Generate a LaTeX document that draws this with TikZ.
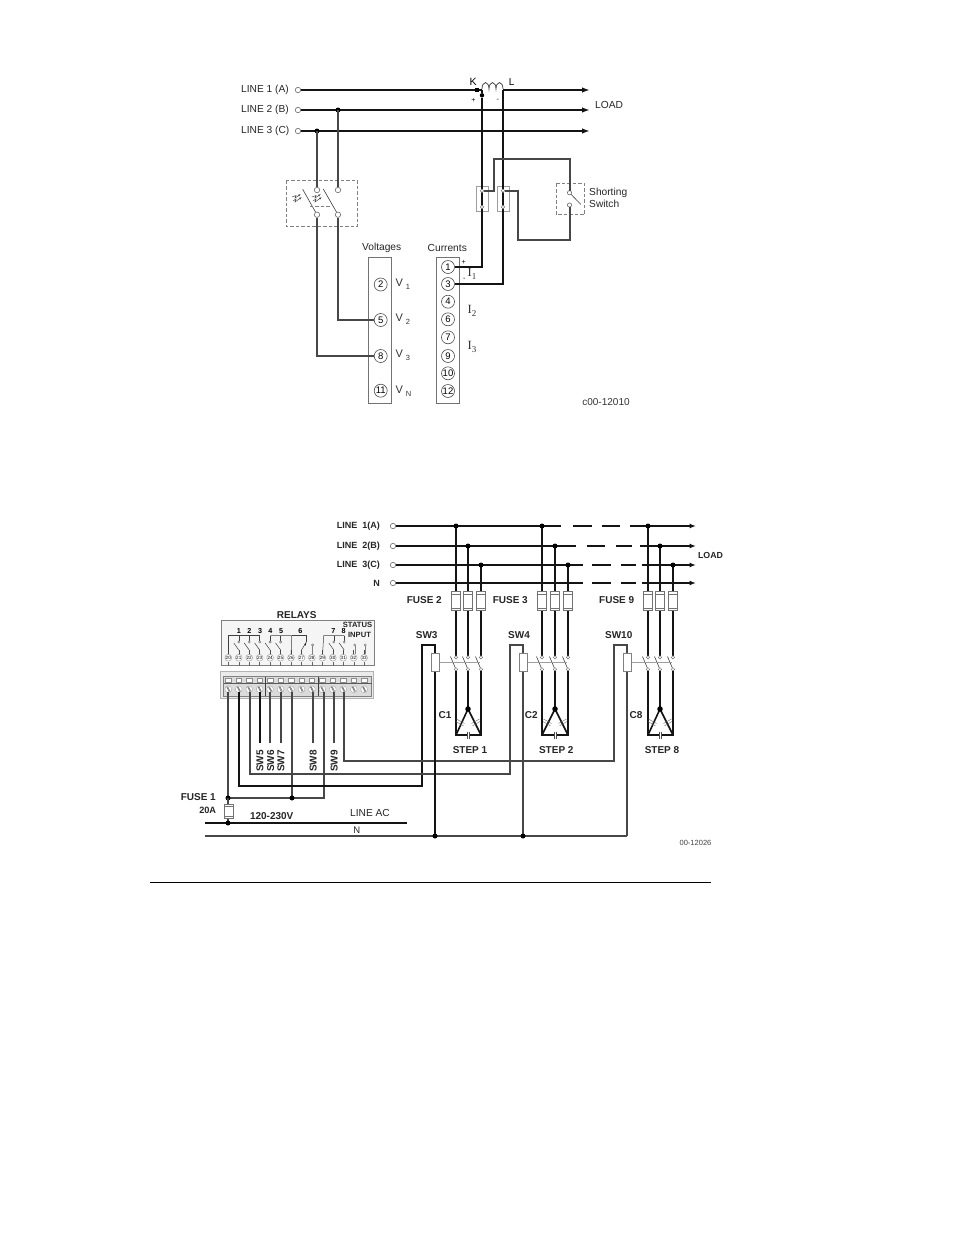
\documentclass[tikz,border=0pt]{standalone}
\usepackage{fontspec}
\setmainfont{Liberation Sans}
\newfontfamily\serifx{Liberation Serif}
\usetikzlibrary{arrows.meta}
\definecolor{wire}{gray}{0.08}
\definecolor{wiremid}{gray}{0.28}
\definecolor{gline}{gray}{0.62}
\tikzset{
 x=1pt,y=-1pt,
 wth/.style={line width=2pt,draw=wire},
 wmed/.style={line width=1.7pt,draw=wiremid},
 thin1/.style={line width=0.6pt,draw=black!75},
 grayl/.style={line width=0.9pt,draw=gline},
 dbox/.style={line width=0.7pt,draw=black!50,dash pattern=on 3.5pt off 2pt},
 term/.style={circle,draw=black!60,line width=0.6pt,fill=white,inner sep=0pt,minimum size=5.4pt},
 tiny1/.style={circle,draw=black!55,line width=0.45pt,fill=white,inner sep=0pt,minimum size=2.8pt},
 dot/.style={circle,fill=black,inner sep=0pt,minimum size=5pt},
 num/.style={circle,draw=black!70,line width=0.6pt,fill=white,inner sep=0pt,minimum size=13pt,font=\fontsize{9.5}{9.5}\selectfont},
 lab/.style={inner sep=0pt,yshift=-0.8pt,font=\fontsize{10.2}{11}\selectfont,text=black!85},
 blab/.style={inner sep=0pt,yshift=-0.5pt,font=\fontsize{10}{10}\bfseries\selectfont,text=black!85},
 fuse/.style={draw=black!55,line width=0.6pt,fill=white,minimum width=8.6pt,minimum height=19pt,inner sep=0pt},
 swbox/.style={draw=black!50,line width=0.7pt,fill=white,minimum width=8pt,minimum height=18pt,inner sep=0pt},
 arr/.style={-{Latex[length=8pt,width=5.5pt]}},
 arr2/.style={-{Latex[length=6.5pt,width=5pt]}},
}
\begin{document}
\begin{tikzpicture}
\useasboundingbox[fill=white] (0,0) rectangle (954,1235);

%%%%% TOP DIAGRAM
\node[lab,anchor=west] at (241,89) {LINE 1 (A)};
\node[lab,anchor=west] at (241,109) {LINE 2 (B)};
\node[lab,anchor=west] at (241,130) {LINE 3 (C)};
\node[term] (ta) at (298,90) {};
\node[term] (tb) at (298,110) {};
\node[term] (tc) at (298,131) {};
\coordinate (ka) at (482,90);
\coordinate (ctl) at (503,90);
\coordinate (ea) at (590,90);
\coordinate (eb) at (590,110);
\coordinate (ec) at (590,131);
\draw[wth] (ta) -- (ka);
\draw[wth,arr] (ctl) -- (ea);
\draw[wth,arr] (tb) -- (eb);
\draw[wth,arr] (tc) -- (ec);
\coordinate (j3) at (317,131);
\coordinate (j2) at (338,110);
\node[dot] at (j3) {}; \node[dot] at (j2) {};
% isolating switch
\draw[dbox] (286,180.5) rectangle (357.5,226);
\node[term] (s1u) at (317,190) {};
\node[term] (s2u) at (338,190) {};
\node[term] (s1d) at (317,214.7) {};
\node[term] (s2d) at (338,214.7) {};
\draw[wmed] (j3) -- (s1u);
\draw[wmed] (j2) -- (s2u);
\draw[thin1] (302.7,189.3) -- (s1d);
\draw[thin1] (323.3,189) -- (s2d);
\draw[dbox] (309.5,206.3) -- (330.5,206.3);
\foreach \x in {293,313}{
 \draw[line width=0.5pt,black!70,-{Latex[length=3pt,width=2pt]}] (\x,201) -- (\x+3,199) -- (\x+2,202) -- (\x+9,197);
 \draw[line width=0.5pt,black!70,-{Latex[length=3pt,width=2pt]}] (\x-1,197) -- (\x+3,195.5) -- (\x+2,198) -- (\x+8,194);
}
% voltages
\node[lab] at (381.7,247) {Voltages};
\draw[draw=black!55,line width=0.7pt] (368.5,257.5) rectangle (391.5,403.5);
\node[num] (v2) at (380.7,284.5) {2};
\node[num] (v5) at (380.7,320) {5};
\node[num] (v8) at (380.7,356) {8};
\node[num] (v11) at (380.7,390.7) {11};
\foreach \y/\s in {284/1,319/2,355.5/3,391/N}{
 \node[inner sep=0pt,anchor=west,font=\fontsize{11}{11}\selectfont,text=black!80] at (395.3,\y) {V\hspace{3pt}\raisebox{-3pt}{\fontsize{7.5}{7.5}\selectfont\s}};
}
\draw[wmed] (s2d) |- (v5);
\draw[wmed] (s1d) |- (v8);
% currents
\node[lab] at (447.3,247) {Currents};
\draw[draw=black!55,line width=0.7pt] (436.5,257.5) rectangle (459.5,403.5);
\foreach \n/\y in {1/267,3/284,4/301.7,6/319.3,7/337.3,9/356,10/373.3,12/391}{
 \node[num] (c\n) at (448,\y) {\n};
}
\foreach \y/\s in {273.5/1,310.7/2,346.7/3}{
 \node[inner sep=0pt,anchor=west,font=\serifx\fontsize{12.5}{12}\selectfont,text=black!80] at (467.5,\y) {I\raisebox{-3pt}{\fontsize{9}{9}\selectfont\s}};
}
\node[inner sep=0pt,font=\fontsize{7}{7}\selectfont] at (463.7,262) {+};
\node[inner sep=0pt,font=\fontsize{7}{7}\selectfont] at (464.3,279) {-};
% CT
\node[inner sep=0pt,font=\fontsize{10.5}{10}\selectfont] at (473,81.5) {K};
\node[inner sep=0pt,font=\fontsize{10}{10}\selectfont] at (511.7,82) {L};
\draw[line width=0.7pt,black!80] (482,89) arc[start angle=180,end angle=360,x radius=3.5,y radius=6.5] arc[start angle=180,end angle=360,x radius=3.5,y radius=6.5] arc[start angle=180,end angle=360,x radius=3.5,y radius=6.5];
\node[fill=black,inner sep=0pt,minimum size=4pt] at (477,90) {};
\node[dot,minimum size=4.4pt] (ctk) at (482,95.3) {};
\node[inner sep=0pt,font=\fontsize{7}{7}\selectfont] at (473.3,100.7) {+};
\node[inner sep=0pt,font=\fontsize{7}{7}\selectfont] at (497.7,100.7) {-};
\draw[grayl] (476.5,186.5) rectangle (488.5,211.5);
\draw[grayl] (497.5,186.5) rectangle (509.5,211.5);
\draw[wth] (ka) -- (ctk);
\draw[wth] (ctk) |- (c1);
\draw[wth] (ctl) |- (c3);
\node[tiny1,minimum size=3.6pt] (ca) at (482,190.7) {};
\node[tiny1,minimum size=3.6pt] at (482,207) {};
\node[tiny1,minimum size=3.6pt] (cb) at (503,190.7) {};
\node[tiny1,minimum size=3.6pt] at (503,207) {};
% shorting switch
\draw[dbox] (556,183.5) rectangle (584.5,214.5);
\node[term,minimum size=4.2pt] (ss1) at (569.5,192.7) {};
\node[term,minimum size=4.2pt] (ss2) at (569.5,205) {};
\draw[thin1] (ss1) -- (580.7,204.3);
\draw[wmed] (ca) -- (494,190.7) -- (494,159) -- (570,159) -- (570,190.8);
\draw[wmed] (cb) -- (518,190.7) -- (518,240) -- (570,240) -- (570,207);
\node[lab,anchor=west] at (589,192) {Shorting};
\node[lab,anchor=west] at (589,203) {Switch};
\node[lab,anchor=west] at (595,104) {LOAD};
\node[inner sep=0pt,font=\fontsize{10}{10}\selectfont,text=black!80] at (606,402) {c00-12010};

%%%%% BOTTOM DIAGRAM
\foreach \t/\y in {LINE\ \ 1(A)/526,LINE\ \ 2(B)/545.5,LINE\ \ 3(C)/565,N/583}{
 \node[blab,anchor=east,font=\fontsize{9}{9}\bfseries\selectfont] at (380,\y) {\t};
}
\node[term] (l1) at (393,526) {};
\node[term] (l2) at (393,546) {};
\node[term] (l3) at (393,565) {};
\node[term] (l4) at (393,583) {};
\coordinate (l1a) at (561,526); \coordinate (l2a) at (576,546);
\coordinate (l3a) at (583,565); \coordinate (l4a) at (583,583);
\draw[wth] (l1) -- (l1a);
\draw[wth] (l2) -- (l2a);
\draw[wth] (l3) -- (l3a);
\draw[wth] (l4) -- (l4a);
\foreach \y/\a/\b/\c/\d/\e in {526/573.3/592.3/601.7/620/630,546/586.7/605/616/632/640,565/592.3/611/621/636/641.7,583/592.3/611/621/636/641.7}{
 \draw[wth] (\a,\y) -- (\b,\y);
 \draw[wth] (\c,\y) -- (\d,\y);
 \draw[wth,arr2] (\e,\y) -- (696,\y);
}
% three capacitor banks
\foreach \xa/\xb/\xc in {456/468/481,542/555/568,648/660/673}{
 \draw[wth] (\xa,526) -- (\xa,592);
 \draw[wth] (\xb,546) -- (\xb,592);
 \draw[wth] (\xc,565) -- (\xc,592);
 \node[dot] at (\xa,526) {};
 \node[dot] at (\xb,546) {};
 \node[dot] at (\xc,565) {};
 \draw[wth] (\xa,610) -- (\xa,657);
 \draw[wth] (\xb,610) -- (\xb,657);
 \draw[wth] (\xc,610) -- (\xc,657);
 \foreach \x in {\xa,\xb,\xc}{
  \node[fuse] at (\x,601.2) {};
  \draw[black!55,line width=0.5pt] (\x-4.3,594) -- (\x+4.3,594) (\x-4.3,608.5) -- (\x+4.3,608.5);
  \draw[thin1] (\x-5.5,656.5) -- (\x,669.5);
 }
 \draw[grayl] (\xa-16,662.5) -- (\xc-1,662.5);
 \foreach \x in {\xa,\xb,\xc}{
  \node[tiny1,minimum size=3.4pt] at (\x,657.3) {};
  \node[tiny1,minimum size=3.4pt] at (\x,669.3) {};
 }
 \draw[wth,line join=miter] (\xa,671) -- (\xa,735) -- (\xc,735) -- (\xc,671);
 \draw[wth] (\xb,671) -- (\xb,709);
 \draw[wth,line width=1.6pt] (\xa,735) -- (\xb,709) -- (\xc,735);
 \node[dot,minimum size=5.5pt] at (\xb,709) {};
 % capacitor marks
 \fill[white] (\xb-1.2,731) rectangle (\xb+1.2,739);
 \draw[black!70,line width=0.5pt] (\xb-1.2,731.5) -- (\xb-1.2,739) (\xb+1.2,731.5) -- (\xb+1.2,739);
 \draw[black!55,line width=0.45pt] (\xb-11.5,719) -- (\xb-3.5,723.5) (\xb-12,721.5) -- (\xb-4.5,725.8);
 \draw[black!55,line width=0.45pt] (\xb+11.5,719) -- (\xb+3.5,723.5) (\xb+12,721.5) -- (\xb+4.5,725.8);
}
\node[blab] at (424.3,599.3) {FUSE 2};
\node[blab] at (510.3,599.3) {FUSE 3};
\node[blab] at (616.7,599.3) {FUSE 9};
\node[blab] at (426.7,634.7) {SW3};
\node[blab] at (519,634.7) {SW4};
\node[blab] at (618.7,634.7) {SW10};
\node[blab] at (445,714.3) {C1};
\node[blab] at (531.3,714.3) {C2};
\node[blab] at (636,714.3) {C8};
\node[blab] at (470,749.3) {STEP 1};
\node[blab] at (556.3,749.3) {STEP 2};
\node[blab] at (662,749.3) {STEP 8};
\node[blab,font=\fontsize{8.8}{9}\bfseries\selectfont] at (710.5,555) {LOAD};

% relays
\node[blab] at (296.7,615) {RELAYS};
\draw[draw=black!50,fill=black!4,line width=0.7pt] (221.5,620.5) rectangle (374,665);
\foreach \n [count=\i from 0] in {20,...,33}{
 \pgfmathsetmacro\xx{228.3+\i*10.45}
 \draw[black!60,line width=0.4pt] (\xx,662) -- (\xx,666);
 \draw[black!70,line width=0.5pt] (\xx,650) -- (\xx,655);
 \node[circle,draw=black!45,line width=0.35pt,fill=white,minimum size=6.8pt,inner sep=0pt,font=\fontsize{4.6}{4}\selectfont] (r\n) at (\xx,657.7) {\n};
}
\foreach \n/\x in {1/239,2/249.3,3/260,4/270.3,5/281,6/300.3,7/333.3,8/343.7}{
 \node[inner sep=0pt,font=\fontsize{7.2}{7}\bfseries\selectfont] at (\x,631) {\n};
}
\draw[thin1,line width=0.5pt] (r20) -- (228.3,635.5) -- (260,635.5);
\draw[thin1,line width=0.5pt] (270.3,635.5) -- (291.7,635.5) (291.7,635.5) -- (r26);
\draw[thin1,line width=0.5pt] (291.7,635.5) -- (306.3,635.5) -- (306.3,642);
\draw[thin1,line width=0.5pt] (r29) -- (323.7,635.5) -- (344.3,635.5);
\foreach \x in {238.8,249.2,259.7,270.1,280.6,333.8,344.2}{
 \draw[thin1,line width=0.5pt] (\x,635.5) -- (\x,641);
 \node[tiny1,minimum size=2.2pt] at (\x,642) {};
 \draw[thin1,line width=0.5pt] (\x-5,643) -- (\x,650);
}
\fill[black] (306.3,642.5) -- (304.3,644.5) -- (305.5,645.5) -- cycle;
\draw[thin1,line width=0.5pt] (306.3,642) -- (301.5,650);
\foreach \x in {312.6,365.3,354.8}{
 \draw[black!50,line width=0.4pt] (\x,646) -- (\x,654);
 \node[tiny1,minimum size=2.2pt] at (\x,645) {};
}
\node[blab,font=\fontsize{7.6}{7.6}\bfseries\selectfont] at (357.5,624.7) {STATUS};
\node[blab,font=\fontsize{7.6}{7.6}\bfseries\selectfont] at (359.5,634) {INPUT};

% terminal block
\draw[draw=black!30,fill=black!8,line width=0.7pt] (220.5,671.5) rectangle (373.5,698.5);
\fill[black!14] (223.5,676.5) rectangle (371.5,696);
\draw[black!50,line width=0.5pt] (223.5,676.5) rectangle (371.5,696);
\draw[black!65,line width=0.7pt] (223.5,683.5) -- (371.5,683.5);
\foreach \n [count=\i from 0] in {20,...,33}{
 \pgfmathsetmacro\xx{228.3+\i*10.45}
 \draw[black!45,fill=white,line width=0.4pt] (\xx-2.7,678.3) rectangle (\xx+2.7,682.3);
 \node[circle,draw=black!35,fill=white,line width=0.4pt,minimum size=6.8pt,inner sep=0pt] (s\n) at (\xx,689.3) {};
 \draw[black!65,line width=0.45pt] (\xx-1.6,686.8) -- (\xx+0.8,691.8) (\xx-0.6,686.6) -- (\xx+1.8,691.4);
}
\draw[black!75,line width=0.7pt] (265.7,676.5) -- (265.7,696) (318.3,676.5) -- (318.3,696);

% wires from terminal block
\coordinate (ja) at (228,798);
\coordinate (jb) at (292,798);
\coordinate (kline) at (228,823);
\draw[wth] (260,692) -- (260,743);
\draw[wmed] (270,692) -- (270,743);
\draw[wmed] (281,692) -- (281,743);
\draw[wmed] (313,692) -- (313,743);
\draw[wmed] (334,692) -- (334,743);
\draw[wmed] (228,692) -- (ja) -- (324,798) -- (324,692);
\draw[wmed] (292,692) -- (jb);
\node[dot] at (ja) {};
\node[dot] at (jb) {};
% to sw coils
\draw[wth] (239,692) -- (239,786) -- (422,786) -- (422,645) -- (435,645) -- (435,654);
\draw[wmed] (250,692) -- (250,774) -- (510,774) -- (510,645) -- (523,645) -- (523,654);
\draw[wmed] (344,692) -- (344,761) -- (614,761) -- (614,645) -- (627,645) -- (627,654);
\node[swbox] (sw3) at (435,662.7) {};
\node[swbox] (sw4) at (523,662.7) {};
\node[swbox] (sw10) at (627,662.7) {};
% neutral & AC
\coordinate (n0) at (205,836); \coordinate (n1) at (627,836);
\coordinate (ac0) at (205,823); \coordinate (ac1) at (407,823);
\draw[wth] (ac0) -- (ac1);
\draw[wmed] (n0) -- (n1);
\draw[wth] (sw3) -- (435,836);
\draw[wmed] (sw4) -- (523,836);
\draw[wmed] (sw10) -- (n1);
\node[dot] at (435,836) {};
\node[dot] at (523,836) {};
% fuse 1
\draw[wmed] (ja) -- (kline);
\node[fuse,minimum height=14pt,minimum width=9pt] at (228.5,811.3) {};
\draw[black!55,line width=0.5pt] (224,806.3) -- (233,806.3) (224,816.3) -- (233,816.3);
\node[dot] at (kline) {};
\node[blab] at (198.3,796.7) {FUSE 1};
\node[blab,font=\fontsize{9.2}{9}\bfseries\selectfont] at (207.7,810) {20A};
\node[blab] at (271.7,816) {120-230V};
\node[lab] at (370,812) {LINE AC};
\node[blab,font=\fontsize{9.5}{9}\selectfont] at (356.7,830) {N};
\foreach \t/\x in {SW5/260,SW6/270.8,SW7/281,SW8/313.3,SW9/334.3}{
 \node[blab,rotate=90] at (\x,760.5) {\t};
}
\node[inner sep=0pt,font=\fontsize{7.5}{7}\selectfont,text=black!75] at (695.5,843) {00-12026};
\draw[black,line width=1.2pt] (150,882.5) -- (711,882.5);
\end{tikzpicture}
\end{document}
